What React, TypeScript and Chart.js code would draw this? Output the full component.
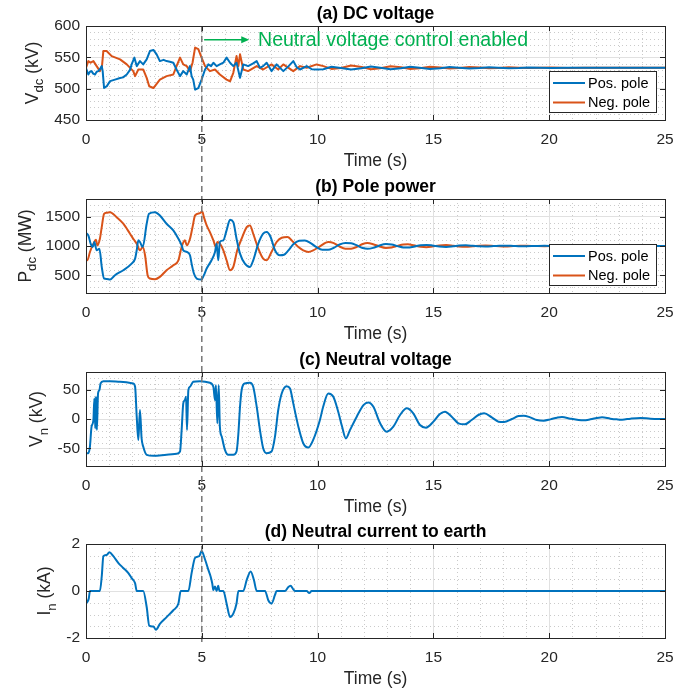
import React, { useEffect, useRef } from 'react';
import { Chart, registerables } from 'chart.js';

Chart.register(...registerables);

type Pt = [number, number];

// ---- axis ticks ----
const timeTicks = [0, 5, 10, 15, 20, 25];
const dcVoltageTicks = [450, 500, 550, 600];
const polePowerTicks = [500, 1000, 1500];
const neutralVoltageTicks = [-50, 0, 50];
const neutralCurrentTicks = [-2, 0, 2];

const poleNames = ['Pos. pole', 'Neg. pole'];
const controlEnabledAt = 5; // s
const controlNote = 'Neutral voltage control enabled';

// ---- (a) DC voltage, kV ----
const dcVoltagePos: Pt[] = [
  [0, 533], [0.1, 522.6], [0.17, 527], [0.24, 528], [0.31, 524], [0.39, 522.6], [0.46, 527], [0.53, 528],
  [0.6, 531], [0.68, 536], [0.72, 528], [0.78, 501], [0.9, 504], [1.04, 512], [1.25, 514.5], [1.47, 517],
  [1.6, 518], [1.76, 522.6], [1.9, 530], [1.97, 538.7], [2.09, 549.5], [2.19, 536], [2.33, 544], [2.47, 538.7],
  [2.62, 546.8], [2.76, 560], [2.91, 561.8], [3.05, 554.8], [3.19, 544], [3.35, 546], [3.48, 544], [3.62, 543],
  [3.77, 541.4], [3.91, 530.6], [4.06, 520], [4.2, 528], [4.35, 522.6], [4.49, 536], [4.56, 520], [4.63, 514.5],
  [4.71, 498.4], [4.85, 501], [4.99, 514.5], [5.14, 530.6], [5.28, 538.7], [5.4, 536], [5.5, 541.4], [5.64, 536],
  [5.78, 538.7], [5.93, 541.4], [6.07, 549.5], [6.22, 541.4], [6.36, 536], [6.5, 541.4], [6.65, 517.2], [6.79, 538.7],
  [7.0, 536], [7.2, 540], [7.37, 544], [7.51, 533.3], [7.65, 536], [7.8, 541.4], [8.01, 528], [8.23, 538.7],
  [8.52, 528], [8.75, 536], [8.95, 544], [9.1, 534], [9.24, 530.6], [9.53, 536], [9.75, 531], [9.96, 530.6],
  [10.25, 531], [10.6, 535], [11.0, 533], [11.45, 530.5], [11.9, 532.5], [12.3, 535.5], [12.7, 533.5], [13.15, 531],
  [13.6, 532.5], [14.0, 535], [14.4, 533.5], [14.85, 531.5], [15.3, 532.5], [15.7, 534.5], [16.1, 533.5], [16.55, 532],
  [17.0, 532.8], [17.4, 534.2], [17.8, 533.4], [18.25, 532.5], [18.7, 533], [19.1, 533.8], [19.6, 533.2], [20.1, 532.9],
  [20.8, 533.5], [21.5, 533.2], [22.5, 533.3], [25, 533.3],
];
const dcVoltageNeg: Pt[] = [
  [0, 533.3], [0.1, 544], [0.2, 541.4], [0.32, 544], [0.46, 536], [0.6, 528], [0.69, 536], [0.75, 560.2],
  [0.89, 560.2], [1.11, 552], [1.47, 546.8], [1.76, 538.7], [2.04, 528], [2.12, 520], [2.26, 530.6], [2.47, 530.6],
  [2.62, 517.2], [2.73, 503.8], [2.91, 501], [3.19, 514.5], [3.48, 520], [3.77, 522.6], [3.91, 536], [4.06, 549.5],
  [4.2, 538.7], [4.35, 536], [4.49, 528], [4.6, 541.4], [4.71, 565.6], [4.85, 563], [4.99, 549.5], [5.14, 536],
  [5.35, 528], [5.57, 530.6], [5.78, 522.6], [6.07, 514.5], [6.22, 511.8], [6.36, 525.3], [6.5, 552], [6.58, 536],
  [6.65, 554.8], [6.79, 530.6], [7.0, 528], [7.37, 536], [7.65, 530.6], [8.01, 538.7], [8.3, 530.6], [8.52, 538.7],
  [8.95, 528], [9.24, 536], [9.53, 533.3], [9.96, 538.7],
  [10.25, 536], [10.6, 531.5], [11.0, 533], [11.45, 537], [11.9, 534.5], [12.3, 531], [12.7, 532.5], [13.15, 535.8],
  [13.6, 534], [14.0, 531.5], [14.4, 532.5], [14.85, 535], [15.3, 533.8], [15.7, 532], [16.1, 532.8], [16.55, 534.5],
  [17.0, 533.6], [17.4, 532.4], [17.8, 533], [18.25, 534], [18.7, 533.4], [19.1, 532.8], [19.6, 533.3], [20.1, 533.6],
  [20.8, 533.1], [21.5, 533.4], [22.5, 533.3], [25, 533.3],
];

// ---- (b) pole power, MW ----
const polePowerPos: Pt[] = [
  [0, 1220], [0.1, 1181], [0.2, 1040], [0.29, 983], [0.36, 1068], [0.46, 927], [0.58, 955], [0.68, 644],
  [0.78, 446], [0.9, 440], [1.04, 429], [1.25, 503], [1.61, 588], [1.97, 700], [2.12, 785], [2.19, 927],
  [2.26, 1096], [2.33, 1068], [2.45, 983], [2.62, 1379], [2.72, 1548], [2.98, 1576], [3.19, 1520], [3.48, 1379],
  [3.77, 1266], [3.99, 1124], [4.13, 1011], [4.2, 927], [4.35, 898], [4.49, 842], [4.56, 700], [4.66, 531],
  [4.78, 446], [4.99, 429], [5.09, 503], [5.21, 616], [5.42, 757], [5.57, 898], [5.64, 1040], [5.71, 757],
  [5.78, 1068], [5.93, 1096], [6.07, 1266], [6.22, 1446], [6.36, 1407], [6.5, 1124], [6.65, 870], [6.86, 700],
  [7.08, 644], [7.22, 757], [7.44, 1040], [7.65, 1209], [7.8, 1237], [7.97, 1153], [8.16, 927], [8.37, 842],
  [8.55, 850], [8.73, 920], [8.95, 1030], [9.2, 1090], [9.45, 1095], [9.7, 1050], [9.95, 980], [10.2, 935],
  [10.45, 935], [10.7, 970], [10.95, 1025], [11.2, 1050], [11.45, 1045], [11.7, 1010], [11.95, 965], [12.15, 952],
  [12.4, 968], [12.65, 1005], [12.95, 1033], [13.2, 1025], [13.45, 998], [13.7, 975], [13.9, 973], [14.15, 988],
  [14.45, 1012], [14.7, 1019], [14.95, 1010], [15.25, 992], [15.55, 985], [15.85, 995], [16.1, 1007], [16.4, 1011],
  [16.7, 1004], [17.0, 994], [17.25, 992], [17.6, 998], [17.85, 1004], [18.1, 1006], [18.45, 1001], [18.75, 996],
  [19.0, 996], [19.4, 1000], [19.8, 1003], [20.2, 1000], [20.6, 998.5], [21.1, 1000], [21.5, 1001], [22.5, 1000],
  [25, 1000],
];
const polePowerNeg: Pt[] = [
  [0, 757], [0.06, 757], [0.17, 898], [0.32, 1040], [0.43, 1107], [0.49, 1011], [0.6, 1124], [0.68, 1322],
  [0.78, 1548], [0.89, 1565], [1.04, 1576], [1.32, 1491], [1.61, 1379], [1.9, 1209], [2.04, 1124], [2.19, 1040],
  [2.33, 927], [2.45, 983], [2.55, 842], [2.66, 503], [2.76, 446], [2.98, 435], [3.19, 475], [3.48, 588],
  [3.77, 672], [3.99, 757], [4.13, 983], [4.27, 1096], [4.35, 1011], [4.49, 1124], [4.6, 1322], [4.71, 1520],
  [4.92, 1560], [5.02, 1588], [5.09, 1491], [5.21, 1350], [5.35, 1237], [5.5, 1096], [5.61, 983], [5.67, 1068],
  [5.78, 1040], [5.93, 927], [6.07, 757], [6.22, 588], [6.36, 644], [6.53, 927], [6.72, 1124], [6.94, 1322],
  [7.08, 1350], [7.22, 1209], [7.44, 955], [7.65, 785], [7.8, 757], [8.01, 898], [8.23, 1068], [8.45, 1141],
  [8.7, 1153], [8.95, 1068], [9.17, 983], [9.38, 927], [9.6, 900], [9.81, 927], [10.1, 994], [10.46, 1068],
  [10.7, 1050], [10.95, 990], [11.2, 955], [11.45, 955], [11.7, 985], [11.95, 1035], [12.15, 1050], [12.4, 1030],
  [12.65, 995], [12.95, 967], [13.2, 975], [13.45, 1002], [13.7, 1025], [13.9, 1028], [14.15, 1012], [14.45, 988],
  [14.7, 980], [14.95, 990], [15.25, 1008], [15.55, 1016], [15.85, 1005], [16.1, 993], [16.4, 988], [16.7, 996],
  [17.0, 1006], [17.25, 1009], [17.6, 1002], [17.85, 996], [18.1, 993], [18.45, 999], [18.75, 1004], [19.0, 1004],
  [19.4, 1000], [19.8, 997], [20.2, 1000], [20.6, 1002], [21.1, 1000], [21.5, 999], [22.5, 1000], [25, 1000],
];

// ---- (c) neutral voltage, kV ----
const neutralVoltage: Pt[] = [
  [0, -58.2], [0.1, -58.2], [0.17, -46.9], [0.24, -13], [0.32, -1.7], [0.36, 35], [0.4, -15.8], [0.43, 37.9],
  [0.47, -18.6], [0.52, 43.5], [0.58, 49.2], [0.63, 60.5], [0.75, 64.4], [1.04, 64.4], [1.47, 63.3], [2.04, 60.5],
  [2.12, 54.8], [2.19, 4], [2.26, -35.6], [2.33, 15.3], [2.4, -32.8], [2.47, -46.9], [2.62, -61], [2.91, -62.7],
  [3.48, -61], [3.91, -59.3], [4.06, -55.4], [4.13, -18.6], [4.2, 26.6], [4.27, 32.2], [4.32, 37.9], [4.36, -18.6],
  [4.42, 49.2], [4.49, 54.8], [4.63, 63.3], [4.92, 64.4], [5.35, 61.6], [5.5, 54.8], [5.57, 32.2], [5.61, 57.6],
  [5.67, -7.3], [5.73, 57.6], [5.78, -13], [5.86, -29.9], [6.0, -52.5], [6.14, -61], [6.36, -61], [6.5, -55.4],
  [6.58, -24.3], [6.65, 20.9], [6.72, 49.2], [6.86, 60.5], [7.08, 61.6], [7.22, 54.8], [7.37, 20.9], [7.51, -18.6],
  [7.65, -49.7], [7.8, -58.2], [8.01, -55.4], [8.16, -29.9], [8.3, 15.3], [8.45, 43.5], [8.66, 55.9], [8.81, 52],
  [8.95, 26.6], [9.17, -13], [9.38, -41.2], [9.6, -48.6], [9.81, -35.6], [10.1, -1.7], [10.24, 20.9], [10.46, 43.5],
  [10.68, 37.9], [10.89, 12.4], [11.05, -12], [11.22, -33], [11.4, -18.6], [11.69, 4], [11.98, 23.7], [12.19, 28.2],
  [12.41, 20.9], [12.7, -7.3], [12.98, -21.5], [13.27, -13], [13.56, 6.8], [13.85, 18.1], [14.13, 9.6], [14.42, -10.2],
  [14.68, -14.7], [15.0, -4.5], [15.28, 8.5], [15.5, 12.4], [15.79, 4], [16.08, -7.3], [16.36, -9], [16.65, -1.7],
  [16.94, 6.8], [17.19, 9.6], [17.52, 2.8], [17.81, -4.5], [18.05, -5.1], [18.39, 0], [18.68, 5.1], [18.9, 5.6],
  [19.18, 2.8], [19.47, -1.7], [19.76, -2.8], [20.05, -0.6], [20.34, 2.3], [20.55, 3.4], [20.91, 0.6], [21.27, -1.7],
  [21.49, -2.3], [21.78, -0.6], [22.14, 2.3], [22.28, 2.8], [22.64, 0.6], [22.93, -0.6], [23.15, -1.1], [23.51, 0.6],
  [23.94, 1.7], [24.37, 0.6], [25, 0],
];

// ---- (d) neutral current to earth, kA ----
const neutralCurrent: Pt[] = [
  [0, -0.53], [0.06, -0.46], [0.12, -0.32], [0.17, 0], [0.6, 0], [0.68, 0.62], [0.75, 1.48], [0.89, 1.53],
  [1.01, 1.65], [1.18, 1.48], [1.4, 1.19], [1.61, 0.98], [1.83, 0.76], [1.97, 0.55], [2.12, 0.33], [2.19, 0],
  [2.47, 0], [2.62, -0.68], [2.73, -1.47], [2.91, -1.51], [3.02, -1.65], [3.19, -1.4], [3.48, -1.11], [3.77, -0.82],
  [3.99, -0.53], [4.09, 0], [4.42, 0], [4.56, 0.76], [4.71, 1.41], [4.89, 1.48], [4.99, 1.7], [5.14, 1.34],
  [5.28, 0.91], [5.38, 0.62], [5.45, 0.33], [5.5, 0.04], [5.57, 0.19], [5.64, 0], [5.71, 0.22], [5.76, 0],
  [5.93, 0], [6.07, -0.53], [6.22, -1.11], [6.36, -0.96], [6.5, -0.53], [6.58, 0], [6.79, 0], [6.94, 0.47],
  [7.11, 0.83], [7.25, 0.47], [7.37, 0], [7.73, 0], [7.87, -0.39], [8.01, -0.53], [8.16, -0.17], [8.23, 0],
  [8.59, 0], [8.73, 0.16], [8.83, 0.22], [8.95, 0.07], [9.02, 0], [9.53, 0], [9.64, -0.09], [9.74, 0], [25, 0],
];

// ---- styling ----
const FONT = "'Liberation Sans', Arial, Helvetica, sans-serif";
const BLUE = '#0072BD';
const ORANGE = '#D95319';
const INK = '#262626';
const NOTE_GREEN = '#00B050';

interface Series { label: string; color: string; data: Pt[] }
interface PanelSpec {
  key: string;
  top: number;
  height: number;
  padTop: number;
  padBottom: number;
  title: string;
  yLabel: [string, string, string];
  yLabelX: number;
  yMin: number;
  yMax: number;
  yTicks: number[];
  yMinor: number;
  series: Series[];
  smooth: boolean;
  legend: boolean;
  note: boolean;
  lineStart: 'plot' | 'edge';
  lineEnd: 'plot' | 'edge';
}

const countSteps = (min: number, max: number, step: number) => Math.round((max - min) / step);
const isMajor = (v: number, ticks: number[]) => ticks.some((t) => Math.abs(t - v) < 1e-6);
const crisp = (p: number) => Math.round(p) + 0.5;

const matlabAxes = {
  id: 'matlabAxes',
  beforeDatasetsDraw(chart: any, _args: any, opts: any) {
    const { ctx, chartArea: a, scales } = chart;
    const x = scales.x;
    const y = scales.y;
    ctx.save();
    ctx.strokeStyle = '#CACACA';
    ctx.lineWidth = 1;
    ctx.setLineDash([1, 3]);
    ctx.beginPath();
    const nx = countSteps(x.min, x.max, opts.xMinor);
    for (let i = 1; i < nx; i++) {
      const v = x.min + i * opts.xMinor;
      if (isMajor(v, opts.xTicks)) continue;
      const px = crisp(x.getPixelForValue(v));
      ctx.moveTo(px, a.top);
      ctx.lineTo(px, a.bottom);
    }
    const ny = countSteps(y.min, y.max, opts.yMinor);
    for (let i = 1; i < ny; i++) {
      const v = y.min + i * opts.yMinor;
      if (isMajor(v, opts.yTicks)) continue;
      const py = crisp(y.getPixelForValue(v));
      ctx.moveTo(a.left, py);
      ctx.lineTo(a.right, py);
    }
    ctx.stroke();
    ctx.restore();
  },
  afterDatasetsDraw(chart: any, _args: any, opts: any) {
    const { ctx, chartArea: a, scales } = chart;
    const x = scales.x;
    const y = scales.y;
    const H = chart.height;

    // dashed marker at the moment the control is switched on
    ctx.save();
    const vx = x.getPixelForValue(opts.markerAt);
    const y0 = opts.lineStart === 'plot' ? a.top : 0;
    const y1 = opts.lineEnd === 'plot' ? a.bottom + 7 : H;
    ctx.strokeStyle = '#777777';
    ctx.lineWidth = 1.5;
    ctx.setLineDash([6, 4]);
    ctx.lineDashOffset = opts.pageTop + y0 - 26;
    ctx.beginPath();
    ctx.moveTo(vx, y0);
    ctx.lineTo(vx, y1);
    ctx.stroke();
    ctx.restore();

    // box and inward ticks
    ctx.save();
    ctx.strokeStyle = INK;
    ctx.lineWidth = 1;
    ctx.strokeRect(crisp(a.left), crisp(a.top), Math.round(a.right - a.left), Math.round(a.bottom - a.top));
    ctx.beginPath();
    const tl = 5;
    opts.xTicks.forEach((v: number) => {
      const px = crisp(x.getPixelForValue(v));
      ctx.moveTo(px, a.bottom);
      ctx.lineTo(px, a.bottom - tl);
      ctx.moveTo(px, a.top);
      ctx.lineTo(px, a.top + tl);
    });
    opts.yTicks.forEach((v: number) => {
      const py = crisp(y.getPixelForValue(v));
      ctx.moveTo(a.left, py);
      ctx.lineTo(a.left + tl, py);
      ctx.moveTo(a.right, py);
      ctx.lineTo(a.right - tl, py);
    });
    ctx.stroke();
    ctx.restore();

    // panel title
    ctx.save();
    ctx.fillStyle = '#000';
    ctx.font = `bold 17.5px ${FONT}`;
    ctx.textAlign = 'center';
    ctx.textBaseline = 'middle';
    ctx.fillText(opts.title, (a.left + a.right) / 2, a.top - 12);
    ctx.restore();

    // y label with subscript
    ctx.save();
    const [main, sub, unit] = opts.yLabel as [string, string, string];
    const size = 17.5;
    const mainFont = `${size}px ${FONT}`;
    const subFont = `${size * 0.75}px ${FONT}`;
    ctx.font = mainFont;
    const w1 = ctx.measureText(main).width;
    const w3 = ctx.measureText(unit).width;
    ctx.font = subFont;
    const w2 = ctx.measureText(sub).width;
    const total = w1 + w2 + w3;
    ctx.translate(opts.yLabelX, (a.top + a.bottom) / 2);
    ctx.rotate(-Math.PI / 2);
    ctx.fillStyle = INK;
    ctx.textAlign = 'left';
    ctx.textBaseline = 'alphabetic';
    let cx = -total / 2;
    ctx.font = mainFont;
    ctx.fillText(main, cx, 0);
    cx += w1;
    ctx.font = subFont;
    ctx.fillText(sub, cx, size * 0.32);
    cx += w2;
    ctx.font = mainFont;
    ctx.fillText(unit, cx, 0);
    ctx.restore();

    // legend box
    if (opts.legend) {
      ctx.save();
      const left = a.right - 116;
      const right = a.right - 9;
      const bottom = a.bottom - 8;
      const top = bottom - 41;
      ctx.fillStyle = '#fff';
      ctx.fillRect(left, top, right - left, bottom - top);
      ctx.strokeStyle = INK;
      ctx.lineWidth = 1;
      ctx.strokeRect(crisp(left), crisp(top), Math.round(right - left), Math.round(bottom - top));
      ctx.font = `14.5px ${FONT}`;
      ctx.textBaseline = 'middle';
      ctx.textAlign = 'left';
      chart.data.datasets.forEach((ds: any, i: number) => {
        const ry = top + 12 + i * 19.5;
        ctx.strokeStyle = ds.borderColor;
        ctx.lineWidth = 2;
        ctx.beginPath();
        ctx.moveTo(left + 4, ry);
        ctx.lineTo(left + 36, ry);
        ctx.stroke();
        ctx.fillStyle = '#000';
        ctx.fillText(ds.label, left + 39, ry + 0.5);
      });
      ctx.restore();
    }

    // annotation arrow + text
    if (opts.note) {
      ctx.save();
      const ay = y.getPixelForValue(578);
      const ax0 = x.getPixelForValue(5.1);
      const ax1 = x.getPixelForValue(7.05);
      ctx.strokeStyle = NOTE_GREEN;
      ctx.fillStyle = NOTE_GREEN;
      ctx.lineWidth = 1.5;
      ctx.beginPath();
      ctx.moveTo(ax0, ay);
      ctx.lineTo(ax1 - 6, ay);
      ctx.stroke();
      ctx.beginPath();
      ctx.moveTo(ax1, ay);
      ctx.lineTo(ax1 - 8, ay - 3.5);
      ctx.lineTo(ax1 - 8, ay + 3.5);
      ctx.closePath();
      ctx.fill();
      ctx.font = `19.5px ${FONT}`;
      ctx.textAlign = 'left';
      ctx.textBaseline = 'middle';
      ctx.fillText(controlNote, x.getPixelForValue(7.43), ay + 0.5);
      ctx.restore();
    }
  },
};

const panels: PanelSpec[] = [
  {
    key: 'a', top: 0, height: 172, padTop: 26, padBottom: 0,
    title: '(a) DC voltage', yLabel: ['V', 'dc', ' (kV)'], yLabelX: 37.5,
    yMin: 450, yMax: 600, yTicks: dcVoltageTicks, yMinor: 10,
    series: [
      { label: poleNames[0], color: BLUE, data: dcVoltagePos },
      { label: poleNames[1], color: ORANGE, data: dcVoltageNeg },
    ],
    smooth: false, legend: true, note: true, lineStart: 'plot', lineEnd: 'edge',
  },
  {
    key: 'b', top: 172, height: 173, padTop: 27, padBottom: 0,
    title: '(b) Pole power', yLabel: ['P', 'dc', ' (MW)'], yLabelX: 30.5,
    yMin: 200, yMax: 1800, yTicks: polePowerTicks, yMinor: 100,
    series: [
      { label: poleNames[0], color: BLUE, data: polePowerPos },
      { label: poleNames[1], color: ORANGE, data: polePowerNeg },
    ],
    smooth: true, legend: true, note: false, lineStart: 'edge', lineEnd: 'edge',
  },
  {
    key: 'c', top: 345, height: 173, padTop: 27, padBottom: 0,
    title: '(c) Neutral voltage', yLabel: ['V', 'n', ' (kV)'], yLabelX: 42,
    yMin: -80, yMax: 80, yTicks: neutralVoltageTicks, yMinor: 10,
    series: [{ label: 'Neutral voltage', color: BLUE, data: neutralVoltage }],
    smooth: true, legend: false, note: false, lineStart: 'edge', lineEnd: 'edge',
  },
  {
    key: 'd', top: 518, height: 176, padTop: 26, padBottom: 4,
    title: '(d) Neutral current to earth', yLabel: ['I', 'n', ' (kA)'], yLabelX: 50,
    yMin: -2, yMax: 2, yTicks: neutralCurrentTicks, yMinor: 0.5,
    series: [{ label: 'Neutral current', color: BLUE, data: neutralCurrent }],
    smooth: true, legend: false, note: false, lineStart: 'edge', lineEnd: 'plot',
  },
];

function Panel({ spec }: { spec: PanelSpec }) {
  const ref = useRef<HTMLCanvasElement>(null);

  useEffect(() => {
    if (!ref.current) return;
    const tickFont = { family: FONT, size: 15.5 };
    const chart = new Chart(ref.current, {
      type: 'line',
      data: {
        datasets: spec.series.map((s) => ({
          label: s.label,
          data: s.data.map(([x, y]) => ({ x, y })),
          borderColor: s.color,
          backgroundColor: s.color,
          borderWidth: 2,
          pointRadius: 0,
          fill: false,
          tension: 0,
          cubicInterpolationMode: spec.smooth ? 'monotone' : 'default',
          borderJoinStyle: 'round',
        })),
      },
      options: {
        animation: false,
        responsive: false,
        devicePixelRatio: 1,
        events: [],
        layout: { padding: { top: spec.padTop, bottom: spec.padBottom, left: 0, right: 34 } },
        plugins: {
          legend: { display: false },
          tooltip: { enabled: false },
          matlabAxes: {
            title: spec.title,
            yLabel: spec.yLabel,
            yLabelX: spec.yLabelX,
            xTicks: timeTicks,
            yTicks: spec.yTicks,
            xMinor: 1,
            yMinor: spec.yMinor,
            legend: spec.legend,
            note: spec.note,
            markerAt: controlEnabledAt,
            pageTop: spec.top,
            lineStart: spec.lineStart,
            lineEnd: spec.lineEnd,
          },
        } as any,
        scales: {
          x: {
            type: 'linear',
            min: 0,
            max: 25,
            afterBuildTicks: (s: any) => { s.ticks = timeTicks.map((value) => ({ value })); },
            afterFit: (s: any) => { s.height = 52; },
            grid: { color: '#E1E1E1', lineWidth: 1, drawTicks: false },
            border: { display: false },
            ticks: {
              font: tickFont, color: INK, padding: 10.5, maxRotation: 0, autoSkip: false,
              callback: (v: any) => String(v),
            },
            title: {
              display: true, text: 'Time (s)', color: INK,
              font: { family: FONT, size: 17.5 }, padding: { top: 0, bottom: 0 },
            },
          },
          y: {
            type: 'linear',
            min: spec.yMin,
            max: spec.yMax,
            afterBuildTicks: (s: any) => { s.ticks = spec.yTicks.map((value) => ({ value })); },
            afterFit: (s: any) => { s.width = 86; },
            grid: { color: '#E1E1E1', lineWidth: 1, drawTicks: false },
            border: { display: false },
            ticks: {
              font: tickFont, color: INK, padding: 6, autoSkip: false,
              callback: (v: any) => String(v),
            },
          },
        },
      } as any,
      plugins: [matlabAxes as any],
    });
    return () => chart.destroy();
  }, [spec]);

  return (
    <canvas
      ref={ref}
      width={699}
      height={spec.height}
      style={{ position: 'absolute', left: 0, top: spec.top, display: 'block' }}
    />
  );
}

export default function App() {
  return (
    <div style={{ position: 'absolute', left: 0, top: 0, width: 699, height: 694, background: '#fff', overflow: 'hidden' }}>
      {panels.map((p) => (
        <Panel key={p.key} spec={p} />
      ))}
    </div>
  );
}
